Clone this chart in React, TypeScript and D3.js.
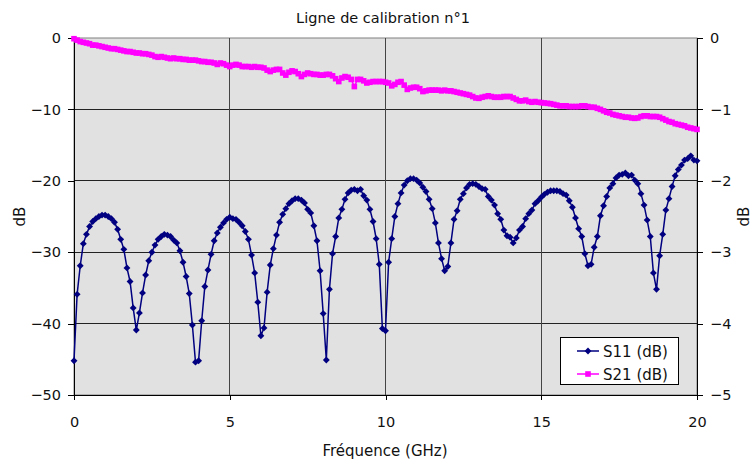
import React, { useEffect, useRef } from 'react';
import * as d3 from 'd3';

// frequency sweep, 0 to 20 GHz by 0.1 GHz
const freqs = d3.range(0, 201).map((i) => i / 10);

// S11 (dB), left axis
const s11 = [
  -45.2, -35.9, -31.9, -28.8, -27.5, -26.4, -25.7, -25.3, -25.0, -24.8,
  -24.8, -25.0, -25.3, -25.8, -26.8, -28.2, -29.6, -32.2, -34.1, -37.8,
  -40.9, -38.5, -35.7, -33.2, -31.2, -30.0, -29.0, -28.2, -27.8, -27.5,
  -27.6, -27.8, -28.3, -28.7, -29.8, -31.4, -33.4, -35.8, -40.2, -45.4,
  -45.2, -39.6, -34.8, -32.5, -30.3, -28.4, -27.3, -26.5, -25.9, -25.4,
  -25.1, -25.3, -25.4, -25.8, -26.3, -27.1, -28.2, -30.4, -32.9, -37.0,
  -41.7, -40.6, -35.6, -31.8, -29.5, -27.6, -25.8, -24.7, -23.9, -23.2,
  -22.8, -22.5, -22.5, -22.7, -23.1, -24.0, -24.5, -26.3, -28.4, -32.6,
  -38.6, -45.1, -35.2, -30.2, -27.8, -25.2, -24.0, -22.6, -21.7, -21.3,
  -21.2, -21.4, -21.2, -22.1, -22.7, -24.0, -25.7, -28.1, -31.7, -40.7,
  -41.0, -31.4, -28.1, -25.0, -23.2, -21.7, -20.6, -20.0, -19.7, -19.7,
  -19.9, -20.3, -20.9, -21.5, -22.6, -23.9, -25.9, -28.7, -30.9, -32.6,
  -32.0, -28.7, -25.4, -24.2, -22.6, -21.8, -21.0, -20.5, -20.4, -20.5,
  -20.8, -21.1, -21.2, -22.2, -22.7, -23.4, -24.6, -25.4, -26.9, -27.7,
  -27.9, -28.7, -28.0, -26.9, -26.4, -25.3, -24.6, -24.1, -23.2, -22.8,
  -22.3, -21.9, -21.6, -21.4, -21.4, -21.4, -21.5, -21.8, -22.0, -22.8,
  -23.7, -25.2, -26.7, -27.8, -30.2, -31.9, -31.7, -29.3, -27.8, -24.9,
  -23.5, -22.2, -21.0, -20.4, -19.6, -19.2, -19.1, -18.9, -19.3, -19.2,
  -19.9, -20.4, -21.8, -23.4, -25.5, -27.8, -32.9, -35.2, -30.5, -27.5,
  -24.1, -22.5, -20.8, -19.3, -18.4, -17.8, -17.1, -16.9, -16.5, -17.1,
  -17.2
];

// S21 (dB), right axis
const s21 = [
  -0.01, -0.03, -0.05, -0.06, -0.07, -0.08, -0.10, -0.10, -0.11, -0.12,
  -0.13, -0.14, -0.15, -0.15, -0.16, -0.17, -0.18, -0.19, -0.19, -0.20,
  -0.21, -0.21, -0.22, -0.22, -0.23, -0.24, -0.26, -0.27, -0.26, -0.27,
  -0.28, -0.29, -0.28, -0.29, -0.29, -0.30, -0.30, -0.31, -0.31, -0.31,
  -0.32, -0.33, -0.33, -0.34, -0.34, -0.35, -0.37, -0.35, -0.36, -0.38,
  -0.40, -0.38, -0.37, -0.38, -0.40, -0.40, -0.40, -0.41, -0.40, -0.41,
  -0.41, -0.42, -0.45, -0.47, -0.45, -0.44, -0.44, -0.49, -0.52, -0.48,
  -0.46, -0.47, -0.50, -0.54, -0.51, -0.49, -0.50, -0.51, -0.51, -0.52,
  -0.52, -0.51, -0.51, -0.53, -0.57, -0.61, -0.56, -0.54, -0.55, -0.58,
  -0.68, -0.58, -0.58, -0.60, -0.63, -0.62, -0.61, -0.61, -0.61, -0.61,
  -0.62, -0.63, -0.67, -0.65, -0.62, -0.61, -0.66, -0.72, -0.70, -0.69,
  -0.69, -0.71, -0.75, -0.74, -0.73, -0.73, -0.73, -0.73, -0.74, -0.73,
  -0.74, -0.74, -0.75, -0.76, -0.77, -0.78, -0.79, -0.80, -0.82, -0.84,
  -0.845, -0.83, -0.82, -0.81, -0.82, -0.83, -0.83, -0.83, -0.82, -0.82,
  -0.82, -0.84, -0.86, -0.88, -0.88, -0.87, -0.89, -0.90, -0.89, -0.90,
  -0.905, -0.91, -0.915, -0.92, -0.93, -0.94, -0.95, -0.95, -0.95, -0.96,
  -0.96, -0.96, -0.96, -0.95, -0.95, -0.96, -0.97, -0.97, -0.985, -1.00,
  -1.02, -1.04, -1.05, -1.07, -1.08, -1.09, -1.10, -1.11, -1.11, -1.12,
  -1.125, -1.12, -1.10, -1.09, -1.09, -1.10, -1.10, -1.10, -1.11, -1.13,
  -1.15, -1.17, -1.18, -1.20, -1.21, -1.22, -1.23, -1.25, -1.26, -1.27,
  -1.28
];

const xTicks = [0, 5, 10, 15, 20];
const leftTicks = [0, -10, -20, -30, -40, -50];
const rightTicks = [0, -1, -2, -3, -4, -5];
const seriesNames = ['S11 (dB)', 'S21 (dB)'];

const FONT = '"DejaVu Sans", Verdana, sans-serif';

export default function App() {
  const ref = useRef<SVGSVGElement>(null);

  useEffect(() => {
    const width = 753;
    const height = 465;
    const margin = { top: 38, right: 56, bottom: 70, left: 74 };
    const x0 = margin.left;
    const x1 = width - margin.right;
    const y0 = margin.top;
    const y1 = height - margin.bottom;

    const svg = d3.select(ref.current);
    svg.selectAll('*').remove();

    const xScale = d3.scaleLinear().domain([0, 20]).range([x0, x1]);
    const yLeft = d3.scaleLinear().domain([-50, 0]).range([y1, y0]);
    const yRight = d3.scaleLinear().domain([-5, 0]).range([y1, y0]);

    svg.append('rect').attr('width', width).attr('height', height).attr('fill', '#fff');

    // plot area
    svg
      .append('rect')
      .attr('x', x0)
      .attr('y', y0)
      .attr('width', x1 - x0)
      .attr('height', y1 - y0)
      .attr('fill', '#e1e1e1')
      .attr('stroke', '#808080');

    // grid
    const grid = svg.append('g').attr('stroke', '#222').attr('stroke-width', 1).attr('shape-rendering', 'crispEdges');
    leftTicks
      .filter((t) => t !== 0 && t !== -50)
      .forEach((t) => {
        grid.append('line').attr('x1', x0).attr('x2', x1).attr('y1', yLeft(t)).attr('y2', yLeft(t));
      });
    xTicks
      .filter((t) => t !== 0 && t !== 20)
      .forEach((t) => {
        grid.append('line').attr('x1', xScale(t)).attr('x2', xScale(t)).attr('y1', y0).attr('y2', y1).attr('stroke', '#444');
      });

    // axes
    const axisStyle = (g: any) => {
      g.selectAll('path, line').attr('stroke', '#000').attr('shape-rendering', 'crispEdges');
      g.selectAll('text').attr('font-family', FONT).attr('font-size', 14.5).attr('fill', '#111');
    };
    const fmt = d3.format('d');

    svg
      .append('g')
      .attr('transform', `translate(0, ${y1})`)
      .call(d3.axisBottom(xScale).tickValues(xTicks).tickSize(5).tickSizeOuter(0).tickPadding(17))
      .call(axisStyle);

    svg
      .append('g')
      .attr('transform', `translate(${x0}, 0)`)
      .call(d3.axisLeft(yLeft).tickValues(leftTicks).tickFormat(fmt as any).tickSize(6).tickSizeOuter(0).tickPadding(7))
      .call(axisStyle);

    svg
      .append('g')
      .attr('transform', `translate(${x1}, 0)`)
      .call(d3.axisRight(yRight).tickValues(rightTicks).tickFormat(fmt as any).tickSize(6).tickSizeOuter(0).tickPadding(7))
      .call(axisStyle);

    svg.selectAll('.domain').attr('stroke-width', 1.3);

    // titles
    svg
      .append('text')
      .attr('x', 383)
      .attr('y', 23)
      .attr('text-anchor', 'middle')
      .attr('font-family', FONT)
      .attr('font-size', 14.5)
      .attr('fill', '#111')
      .text('Ligne de calibration n°1');

    svg
      .append('text')
      .attr('x', 385)
      .attr('y', 456)
      .attr('text-anchor', 'middle')
      .attr('font-family', FONT)
      .attr('font-size', 15)
      .attr('fill', '#111')
      .text('Fréquence (GHz)');

    svg
      .append('text')
      .attr('transform', `translate(25, ${(y0 + y1) / 2}) rotate(-90)`)
      .attr('text-anchor', 'middle')
      .attr('font-family', FONT)
      .attr('font-size', 15)
      .attr('fill', '#111')
      .text('dB');

    svg
      .append('text')
      .attr('transform', `translate(749, ${(y0 + y1) / 2}) rotate(-90)`)
      .attr('text-anchor', 'middle')
      .attr('font-family', FONT)
      .attr('font-size', 15)
      .attr('fill', '#111')
      .text('dB');

    // S21 series
    const s21Line = d3
      .line<number>()
      .x((d, i) => xScale(freqs[i]))
      .y((d) => yRight(d));
    svg.append('path').datum(s21).attr('d', s21Line).attr('fill', 'none').attr('stroke', '#ff00ff').attr('stroke-width', 1.5);
    svg
      .append('g')
      .selectAll('rect')
      .data(s21)
      .enter()
      .append('rect')
      .attr('x', (d, i) => xScale(freqs[i]) - 2.8)
      .attr('y', (d) => yRight(d) - 2.8)
      .attr('width', 5.6)
      .attr('height', 5.6)
      .attr('fill', '#ff00ff');

    // S11 series
    const s11Line = d3
      .line<number>()
      .x((d, i) => xScale(freqs[i]))
      .y((d) => yLeft(d));
    svg.append('path').datum(s11).attr('d', s11Line).attr('fill', 'none').attr('stroke', '#000080').attr('stroke-width', 1.5);
    const diamond = d3.symbol().type(d3.symbolDiamond2).size(30);
    svg
      .append('g')
      .selectAll('path')
      .data(s11)
      .enter()
      .append('path')
      .attr('d', diamond as any)
      .attr('transform', (d, i) => `translate(${xScale(freqs[i])}, ${yLeft(d)})`)
      .attr('fill', '#000080');

    // legend
    const lg = svg.append('g').attr('transform', 'translate(560, 337)');
    lg.append('rect').attr('width', 118).attr('height', 47).attr('fill', '#fff').attr('stroke', '#000').attr('shape-rendering', 'crispEdges');
    const colors = ['#000080', '#ff00ff'];
    seriesNames.forEach((name, i) => {
      const yy = 14 + i * 23;
      lg.append('line').attr('x1', 17).attr('x2', 39).attr('y1', yy).attr('y2', yy).attr('stroke', colors[i]).attr('stroke-width', 1.5);
      if (i === 0) {
        lg.append('path').attr('d', diamond as any).attr('transform', `translate(28, ${yy})`).attr('fill', colors[i]);
      } else {
        lg.append('rect').attr('x', 25.2).attr('y', yy - 2.8).attr('width', 5.6).attr('height', 5.6).attr('fill', colors[i]);
      }
      lg.append('text')
        .attr('x', 43)
        .attr('y', yy + 5.5)
        .attr('font-family', FONT)
        .attr('font-size', 15)
        .attr('fill', '#111')
        .text(name);
    });
  }, []);

  return <svg ref={ref} width={753} height={465} style={{ position: 'absolute', left: 0, top: 0 }} />;
}
